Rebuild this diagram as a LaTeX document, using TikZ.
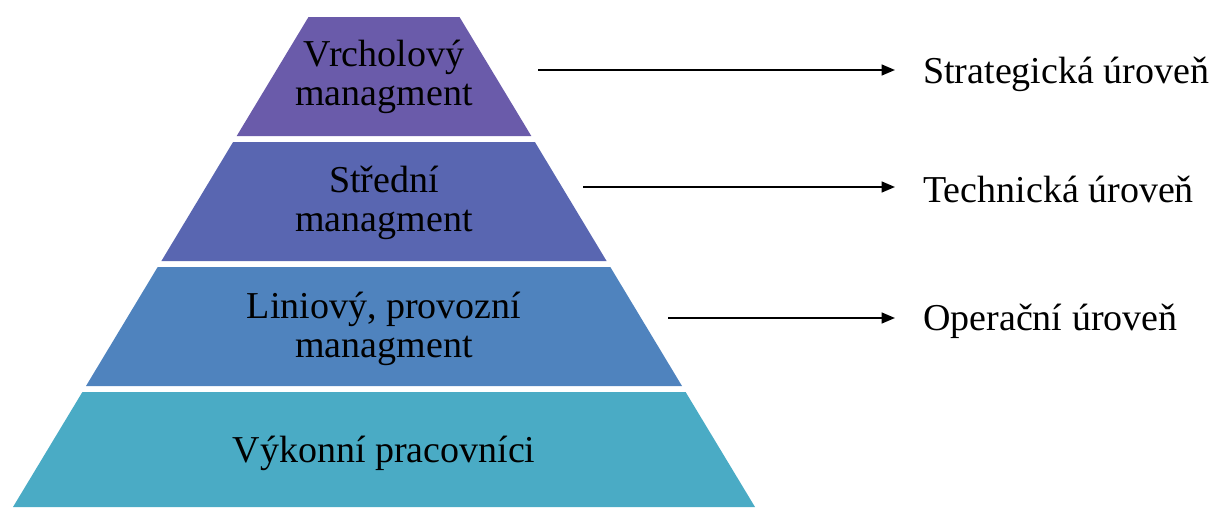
\documentclass[tikz,border=0pt]{standalone}
\usepackage{fontspec}
\setmainfont{Liberation Serif}
\usetikzlibrary{arrows.meta}
\definecolor{tierA}{HTML}{6A5BAA}
\definecolor{tierB}{HTML}{5966B1}
\definecolor{tierC}{HTML}{4F83BE}
\definecolor{tierD}{HTML}{4AABC5}
\begin{document}
\begin{tikzpicture}[x=0.75pt,y=-0.75pt,
  tiertext/.style={align=center,inner sep=0pt,font=\fontsize{28.5}{29.5}\selectfont},
  leveltext/.style={anchor=base west,inner sep=0pt,font=\fontsize{28.5}{29.5}\selectfont},
  levelarrow/.style={line width=1.6pt,-{Triangle[length=10pt,width=8pt]},shorten >=21pt}]
\useasboundingbox (0,0) rectangle (1221,507);
% pyramid tiers (white gaps between them)
\fill[tierA] (308.5,17) -- (459.5,17) -- (531.3,136) -- (236.7,136) -- cycle;
\fill[tierB] (233.1,142) -- (534.9,142) -- (606.6,261) -- (161.4,261) -- cycle;
\fill[tierC] (157.7,267) -- (610.3,267) -- (682,386) -- (86,386) -- cycle;
\fill[tierD] (82.4,392) -- (685.6,392) -- (755,507) -- (13,507) -- cycle;
% tier captions
\node[tiertext] (t1) at (384,77) {Vrcholový\\managment};
\node[tiertext] (t2) at (384,203) {Střední\\managment};
\node[tiertext] (t3) at (384,329) {Liniový, provozní\\managment};
\node[tiertext] (t4) at (384,453) {Výkonní pracovníci};
% level labels
\node[leveltext] (l1) at (923,83) {Strategická úroveň};
\node[leveltext] (l2) at (923,202) {Technická úroveň};
\node[leveltext] (l3) at (923,330) {Operační úroveň};
% arrow starts
\coordinate (s1) at (538,70);
\coordinate (s2) at (583,187);
\coordinate (s3) at (668,318);
\draw[levelarrow] (s1) -- (s1 -| l1.west);
\draw[levelarrow] (s2) -- (s2 -| l2.west);
\draw[levelarrow] (s3) -- (s3 -| l3.west);
\end{tikzpicture}
\end{document}
